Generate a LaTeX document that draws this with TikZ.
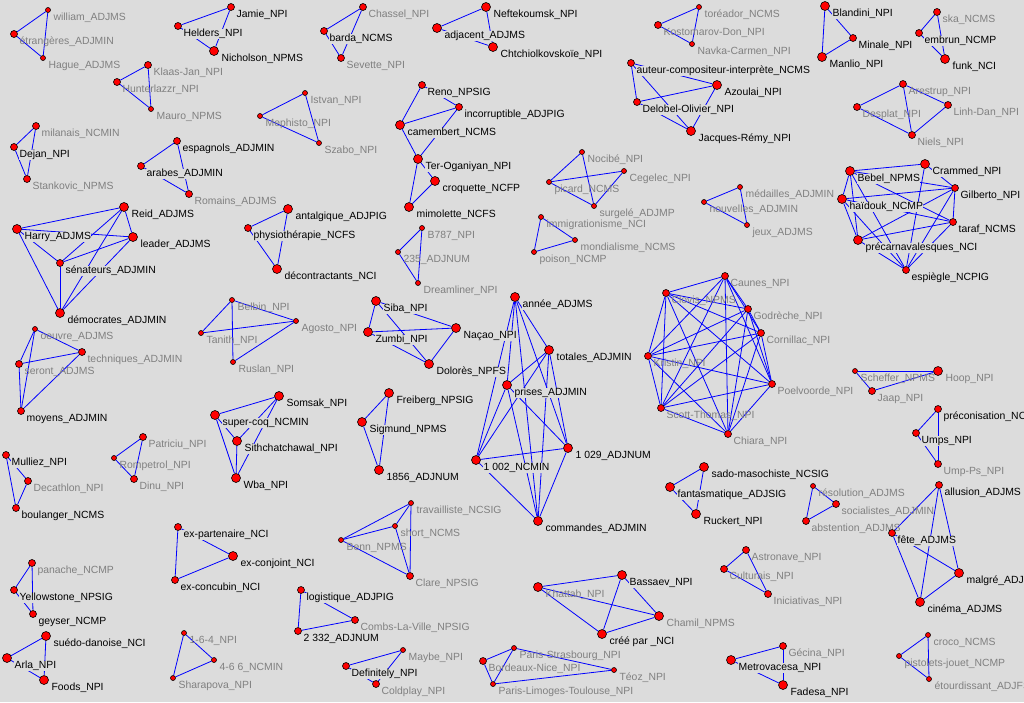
\documentclass[tikz,border=0pt]{standalone}
\usepackage{fontspec}
\setmainfont{Liberation Sans}
\usetikzlibrary{calc}
\definecolor{bgc}{RGB}{220,220,220}
\definecolor{nodered}{RGB}{255,0,0}
\definecolor{edgeblue}{RGB}{0,0,255}
\definecolor{txtgray}{RGB}{128,128,128}
\pgfdeclarelayer{bg}\pgfdeclarelayer{edges}\pgfdeclarelayer{labels}
\pgfsetlayers{bg,edges,labels,main}
\tikzset{
 vtx/.style={circle, draw=black, fill=nodered, inner sep=0pt, line width=0.6pt},
 vl/.style={vtx, minimum size=9pt},
 vm/.style={vtx, minimum size=7pt},
 vs/.style={vtx, minimum size=5pt},
 lb/.style={anchor=west, inner sep=0.4pt, fill=bgc, text=black, font=\fontsize{10.4}{12}\selectfont},
 lg/.style={anchor=west, inner sep=0.4pt, text=txtgray, font=\fontsize{10.4}{12}\selectfont},
 edg/.style={draw=edgeblue, line width=0.8pt}
}
\newcommand\VL[5]{\node[vl] (#1) at (#2,#3) {};\begin{pgfonlayer}{labels}\node[#4] (#1-t) at ($(#1)+(7,8)$) {#5};\end{pgfonlayer}}
\newcommand\VM[5]{\node[vm] (#1) at (#2,#3) {};\begin{pgfonlayer}{labels}\node[#4] (#1-t) at ($(#1)+(5,8)$) {#5};\end{pgfonlayer}}
\newcommand\VS[5]{\node[vs] (#1) at (#2,#3) {};\begin{pgfonlayer}{labels}\node[#4] (#1-t) at ($(#1)+(5,8)$) {#5};\end{pgfonlayer}}
\newcommand\EE[1]{\foreach \p/\q in {#1} {\draw[edg] (\p) -- (\q);}}
\newcommand\KK[1]{\foreach \p [count=\i] in {#1} {\foreach \q [count=\j] in {#1} {\ifnum\i<\j \draw[edg] (\p) -- (\q);\fi}}}
\begin{document}
\begin{tikzpicture}[x=1pt,y=-1pt]
\useasboundingbox (0,0) rectangle (1024,702);
\begin{pgfonlayer}{bg}\fill[bgc] (0,0) rectangle (1024,702);\end{pgfonlayer}
% A
\VS{william}{48}{10}{lg}{william\_ADJMS}
\VM{etrang}{14}{34}{lg}{étrangères\_ADJMIN}
\VS{hague}{43}{58}{lg}{Hague\_ADJMS}
% B
\VM{jamie}{231}{7}{lb}{Jamie\_NPI}
\VM{helders}{178}{26}{lb}{Helders\_NPI}
\VL{nichol}{214}{51}{lb}{Nicholson\_NPMS}
% C
\VM{klaas}{148}{65}{lg}{Klaas-Jan\_NPI}
\VM{hunter}{117}{82}{lg}{Hunterlazzr\_NPI}
\VS{mauro}{151}{109}{lg}{Mauro\_NPMS}
% D
\VM{milan}{36}{126}{lg}{milanais\_NCMIN}
\VM{dejan}{14}{147}{lb}{Dejan\_NPI}
\VM{stank}{27}{179}{lg}{Stankovic\_NPMS}
% E
\VM{espag}{177}{141}{lb}{espagnols\_ADJMIN}
\VM{arabes}{141}{166}{lb}{arabes\_ADJMIN}
\VM{romains}{189}{194}{lg}{Romains\_ADJMS}
% F
\VL{reid}{124}{207}{lb}{Reid\_ADJMS}
\VL{harry}{17}{229}{lb}{Harry\_ADJMS}
\VL{leader}{133}{237}{lb}{leader\_ADJMS}
\VM{senat}{60}{263}{lb}{sénateurs\_ADJMIN}
\VL{democ}{60}{313}{lb}{démocrates\_ADJMIN}
% G
\VS{oeuvre}{35}{329}{lg}{oeuvre\_ADJMS}
\VM{techn}{82}{352}{lg}{techniques\_ADJMIN}
\VM{seront}{19}{364}{lg}{seront\_ADJMS}
\VM{moyens}{21}{411}{lb}{moyens\_ADJMIN}
% H
\VS{belbin}{232}{300}{lg}{Belbin\_NPI}
\VS{tanith}{201}{333}{lg}{Tanith\_NPI}
\VS{ruslan}{233}{362}{lg}{Ruslan\_NPI}
\VS{agosto}{296}{321}{lg}{Agosto\_NPI}
% I
\VL{supercoq}{215}{415}{lb}{super-coq\_NCMIN}
\VL{sith}{237}{441}{lb}{Sithchatchawal\_NPI}
\VL{somsak}{279}{396}{lb}{Somsak\_NPI}
\VL{wba}{236}{478}{lb}{Wba\_NPI}
% J
\VM{patric}{143}{437}{lg}{Patriciu\_NPI}
\VS{rompet}{114}{458}{lg}{Rompetrol\_NPI}
\VM{dinu}{134}{479}{lg}{Dinu\_NPI}
% K
\VM{mulliez}{6}{455}{lb}{Mulliez\_NPI}
\VM{decath}{28}{481}{lg}{Decathlon\_NPI}
\VM{boulang}{16}{508}{lb}{boulanger\_NCMS}
% L
\VM{chassel}{363}{7}{lg}{Chassel\_NPI}
\VM{barda}{324}{31}{lb}{barda\_NCMS}
\VM{sevette}{341}{58}{lg}{Sevette\_NPI}
% M
\VL{neft}{486}{7}{lb}{Neftekoumsk\_NPI}
\VL{adjac}{437}{28}{lb}{adjacent\_ADJMS}
\VL{chtch}{493}{47}{lb}{Chtchiolkovskoïe\_NPI}
% N
\VS{istvan}{305}{93}{lg}{Istvan\_NPI}
\VS{mephi}{260}{116}{lg}{Mephisto\_NPI}
\VS{szabo}{319}{143}{lg}{Szabo\_NPI}
% O
\VM{reno}{422}{85}{lb}{Reno\_NPSIG}
\VM{incorr}{459}{107}{lb}{incorruptible\_ADJPIG}
\VL{camem}{400}{125}{lb}{camembert\_NCMS}
\VL{teroga}{418}{159}{lb}{Ter-Oganiyan\_NPI}
\VL{croq}{435}{181}{lb}{croquette\_NCFP}
\VL{mimol}{409}{207}{lb}{mimolette\_NCFS}
% P
\VL{antalg}{288}{209}{lb}{antalgique\_ADJPIG}
\VM{physio}{248}{228}{lb}{physiothérapie\_NCFS}
\VL{decontr}{277}{269}{lb}{décontractants\_NCI}
% Q
\VS{bsevenes}{422}{228}{lg}{B787\_NPI}
\VS{ntfive}{398}{252}{lg}{235\_ADJNUM}
\VS{dreaml}{418}{283}{lg}{Dreamliner\_NPI}
% R
\VL{siba}{376}{301}{lb}{Siba\_NPI}
\VL{zumbi}{368}{332}{lb}{Zumbi\_NPI}
\VL{nacao}{456}{328}{lb}{Naçao\_NPI}
\VL{dolores}{429}{364}{lb}{Dolorès\_NPFS}
% S
\VL{freib}{389}{393}{lb}{Freiberg\_NPSIG}
\VL{sigm}{362}{422}{lb}{Sigmund\_NPMS}
\VL{neightfs}{379}{470}{lb}{1856\_ADJNUM}
% T
\VL{annee}{515}{297}{lb}{année\_ADJMS}
\VL{totales}{549}{350}{lb}{totales\_ADJMIN}
\VL{prises}{507}{385}{lb}{prises\_ADJMIN}
\VL{nonek}{476}{460}{lb}{1 002\_NCMIN}
\VL{nonet}{568}{448}{lb}{1 029\_ADJNUM}
\VL{comm}{538}{521}{lb}{commandes\_ADJMIN}
% U
\VS{toread}{699}{7}{lg}{toréador\_NCMS}
\VM{kosto}{658}{25}{lg}{Kostomarov-Don\_NPI}
\VS{navka}{692}{44}{lg}{Navka-Carmen\_NPI}
% V
\VM{auteur}{631}{63}{lb}{auteur-compositeur-interprète\_NCMS}
\VL{azoulai}{717}{85}{lb}{Azoulai\_NPI}
\VM{delobel}{637}{102}{lb}{Delobel-Olivier\_NPI}
\VL{jacques}{691}{131}{lb}{Jacques-Rémy\_NPI}
% W
\VS{nocibe}{582}{152}{lg}{Nocibé\_NPI}
\VS{picard}{549}{182}{lg}{picard\_NCMS}
\VS{cegelec}{624}{171}{lg}{Cegelec\_NPI}
\VS{surgele}{594}{206}{lg}{surgelé\_ADJMP}
% X
\VS{medail}{740}{187}{lg}{médailles\_ADJMIN}
\VS{nouvel}{704}{202}{lg}{nouvelles\_ADJMIN}
\VS{jeux}{747}{225}{lg}{jeux\_ADJMS}
% Y
\VS{immig}{541}{217}{lg}{immigrationisme\_NCI}
\VS{mondial}{575}{240}{lg}{mondialisme\_NCMS}
\VS{poison}{534}{252}{lg}{poison\_NCMP}
% Z
\VL{blandini}{825}{6}{lb}{Blandini\_NPI}
\VM{minale}{853}{38}{lb}{Minale\_NPI}
\VL{manlio}{822}{57}{lb}{Manlio\_NPI}
% AA
\VM{ska}{937}{12}{lg}{ska\_NCMS}
\VM{embrun}{919}{33}{lb}{embrun\_NCMP}
\VL{funk}{945}{59}{lb}{funk\_NCI}
% AB
\VM{arest}{903}{84}{lg}{Arestrup\_NPI}
\VM{desplat}{857}{107}{lg}{Desplat\_NPI}
\VM{linhdan}{948}{105}{lg}{Linh-Dan\_NPI}
\VM{niels}{912}{135}{lg}{Niels\_NPI}
% AC
\VL{bebel}{850}{171}{lb}{Bebel\_NPMS}
\VL{crammed}{925}{164}{lb}{Crammed\_NPI}
\VL{haidouk}{842}{199}{lb}{haïdouk\_NCMP}
\VM{gilberto}{955}{188}{lb}{Gilberto\_NPI}
\VM{taraf}{953}{222}{lb}{taraf\_NCMS}
\VL{precarn}{858}{240}{lb}{précarnavalesques\_NCI}
\VM{espieg}{906}{270}{lb}{espiègle\_NCPIG}
% AD
\VM{caunes}{725}{276}{lg}{Caunes\_NPI}
\VM{clovis}{666}{293}{lg}{Clovis\_NPMS}
\VM{godreche}{748}{309}{lg}{Godrèche\_NPI}
\VM{cornil}{761}{333}{lg}{Cornillac\_NPI}
\VM{kristin}{648}{356}{lg}{Kristin\_NPI}
\VM{scott}{661}{408}{lg}{Scott-Thomas\_NPI}
\VM{chiara}{728}{434}{lg}{Chiara\_NPI}
\VM{poelv}{772}{384}{lg}{Poelvoorde\_NPI}
% AE
\VS{scheff}{855}{371}{lg}{Scheffer\_NPMS}
\VL{hoop}{938}{371}{lg}{Hoop\_NPI}
\VM{jaap}{872}{391}{lg}{Jaap\_NPI}
% AF
\VM{precon}{938}{409}{lb}{préconisation\_NCFS}
\VM{umps}{916}{433}{lb}{Umps\_NPI}
\VM{umpps}{938}{464}{lg}{Ump-Ps\_NPI}
% AG
\VL{sado}{704}{467}{lb}{sado-masochiste\_NCSIG}
\VL{fantas}{670}{487}{lb}{fantasmatique\_ADJSIG}
\VL{ruck}{696}{514}{lb}{Ruckert\_NPI}
% AH
\VS{resol}{813}{486}{lg}{résolution\_ADJMS}
\VM{social}{836}{504}{lg}{socialistes\_ADJMIN}
\VM{absten}{806}{521}{lg}{abstention\_ADJMS}
% AI
\VM{allus}{939}{485}{lb}{allusion\_ADJMS}
\VM{fete}{892}{533}{lb}{fête\_ADJMS}
\VL{malgre}{959}{573}{lb}{malgré\_ADJMS}
\VL{cinema}{920}{602}{lb}{cinéma\_ADJMS}
% AJ
\VM{panache}{32}{563}{lg}{panache\_NCMP}
\VM{yellow}{14}{590}{lb}{Yellowstone\_NPSIG}
\VM{geyser}{33}{614}{lb}{geyser\_NCMP}
% AK
\VL{suedo}{46}{636}{lb}{suédo-danoise\_NCI}
\VL{arla}{7}{658}{lb}{Arla\_NPI}
\VL{foods}{44}{680}{lb}{Foods\_NPI}
% AL
\VM{expart}{178}{527}{lb}{ex-partenaire\_NCI}
\VL{exconj}{233}{556}{lb}{ex-conjoint\_NCI}
\VM{exconc}{175}{580}{lb}{ex-concubin\_NCI}
% AM
\VS{nsfq}{184}{633}{lg}{1-6-4\_NPI}
\VS{nfss}{214}{660}{lg}{4-6 6\_NCMIN}
\VS{sharap}{173}{678}{lg}{Sharapova\_NPI}
% AN
\VS{travail}{411}{503}{lg}{travailliste\_NCSIG}
\VS{short}{395}{526}{lg}{short\_NCMS}
\VS{benn}{341}{540}{lg}{Benn\_NPMS}
\VM{clare}{410}{576}{lg}{Clare\_NPSIG}
% AO
\VM{logist}{301}{590}{lb}{logistique\_ADJPIG}
\VM{combs}{355}{620}{lg}{Combs-La-Ville\_NPSIG}
\VM{ntttt}{298}{631}{lb}{2 332\_ADJNUM}
% AP
\VS{maybe}{403}{650}{lg}{Maybe\_NPI}
\VM{defin}{346}{666}{lb}{Definitely\_NPI}
\VM{coldp}{376}{684}{lg}{Coldplay\_NPI}
% AQ
\VM{bordnice}{483}{661}{lg}{Bordeaux-Nice\_NPI}
\VS{plt}{493}{684}{lg}{Paris-Limoges-Toulouse\_NPI}
\VS{pstras}{514}{648}{lg}{Paris-Strasbourg\_NPI}
\VS{teoz}{614}{670}{lg}{Téoz\_NPI}
% AR
\VL{bassaev}{622}{575}{lb}{Bassaev\_NPI}
\VL{khattab}{538}{587}{lg}{Khattab\_NPI}
\VL{chamil}{659}{616}{lg}{Chamil\_NPMS}
\VL{cree}{602}{634}{lb}{créé par \_NCI}
% AS
\VM{astro}{746}{550}{lg}{Astronave\_NPI}
\VM{cultur}{724}{569}{lg}{Culturais\_NPI}
\VM{inicia}{768}{594}{lg}{Iniciativas\_NPI}
% AT
\VL{metrov}{731}{660}{lb}{Metrovacesa\_NPI}
\VM{gecina}{783}{646}{lg}{Gécina\_NPI}
\VL{fadesa}{783}{685}{lb}{Fadesa\_NPI}
% AU
\VS{croco}{928}{635}{lg}{croco\_NCMS}
\VS{pistol}{899}{656}{lg}{pistolets-jouet\_NCMP}
\VS{etourd}{929}{679}{lg}{étourdissant\_ADJFS}
% edges
\begin{pgfonlayer}{edges}
\KK{william,etrang,hague}
\KK{jamie,helders,nichol}
\KK{klaas,hunter,mauro}
\KK{milan,dejan,stank}
\KK{espag,arabes,romains}
\KK{reid,harry,leader,senat,democ}
\KK{oeuvre,techn,seront,moyens}
\EE{belbin/tanith,belbin/ruslan,belbin/agosto,tanith/agosto,ruslan/agosto}
\KK{supercoq,sith,somsak,wba}
\KK{patric,rompet,dinu}
\KK{mulliez,decath,boulang}
\KK{chassel,barda,sevette}
\KK{neft,adjac,chtch}
\KK{istvan,mephi,szabo}
\EE{reno/camem,reno/incorr,camem/incorr,camem/teroga,incorr/teroga,teroga/croq,teroga/mimol,croq/mimol}
\KK{antalg,physio,decontr}
\KK{bsevenes,ntfive,dreaml}
\KK{siba,zumbi,nacao,dolores}
\KK{freib,sigm,neightfs}
\KK{annee,totales,prises,nonek,nonet,comm}
\KK{toread,kosto,navka}
\KK{auteur,azoulai,delobel,jacques}
\EE{nocibe/picard,nocibe/surgele,picard/cegelec,picard/surgele,cegelec/surgele}
\KK{medail,nouvel,jeux}
\KK{immig,mondial,poison}
\KK{blandini,minale,manlio}
\KK{ska,embrun,funk}
\EE{arest/desplat,arest/linhdan,arest/niels,desplat/niels,linhdan/niels}
\KK{bebel,haidouk,gilberto,taraf,precarn,espieg}
\EE{crammed/bebel,crammed/gilberto,crammed/espieg}
\KK{caunes,clovis,godreche,cornil,kristin,scott,chiara,poelv}
\KK{scheff,hoop,jaap}
\KK{precon,umps,umpps}
\KK{sado,fantas,ruck}
\KK{resol,social,absten}
\KK{allus,fete,malgre,cinema}
\KK{panache,yellow,geyser}
\KK{suedo,arla,foods}
\KK{expart,exconj,exconc}
\KK{nsfq,nfss,sharap}
\KK{travail,short,benn,clare}
\KK{logist,combs,ntttt}
\KK{maybe,defin,coldp}
\EE{bordnice/pstras,bordnice/plt,plt/pstras,pstras/teoz,plt/teoz}
\KK{bassaev,khattab,chamil,cree}
\KK{astro,cultur,inicia}
\KK{metrov,gecina,fadesa}
\KK{croco,pistol,etourd}
\end{pgfonlayer}
\end{tikzpicture}
\end{document}
